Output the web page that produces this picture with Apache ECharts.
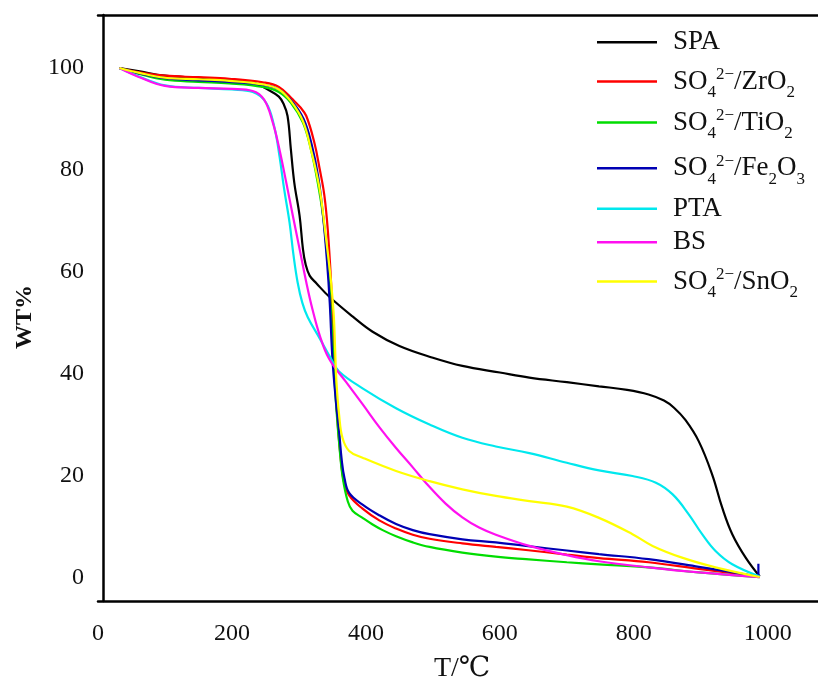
<!DOCTYPE html>
<html><head><meta charset="utf-8">
<script src="https://cdn.jsdelivr.net/npm/echarts@6/dist/echarts.min.js"></script>
<style>html,body{margin:0;padding:0;background:#fff}#c{width:818px;height:688px}</style>
</head><body><div id="c"></div>
<script>
const seriesNames = ['SPA', 'SO₄²⁻/ZrO₂', 'SO₄²⁻/TiO₂', 'SO₄²⁻/Fe₂O₃', 'PTA', 'BS', 'SO₄²⁻/SnO₂'];
const seriesColors = ['#000000', '#ff0000', '#00dd00', '#0000b4', '#00e8ee', '#ff10f0', '#ffff00'];
const xTickLabels = [0, 200, 400, 600, 800, 1000];
const yTickLabels = [0, 20, 40, 60, 80, 100];

const spaData = [[32,100],[60,99.4],[100,98.5],[150,98.1],[196,97.6],[230,97.2],[256,95.6],[270,94.4],[277,93],[283,90.6],[288,84],[293,77.6],[301,71],[306,64.5],[310,61.5],[316,59.3],[326,57.8],[345,55.2],[380,51.3],[410,48.3],[450,45.5],[500,43.2],[544,41.6],[600,40.3],[644,39.3],[700,38.4],[748,37.6],[790,36.9],[822,36],[845,34.8],[860,33.4],[877,31],[897,26.8],[917,20.3],[932,13.8],[947,8.6],[967,4],[988,0.3]];
const zro2Data = [[32,100],[60,99.2],[100,98.5],[150,98.2],[196,97.9],[246,97.2],[270,96.3],[291,93.8],[302,92.3],[311,90.6],[323,85.4],[331,80.2],[338,75],[343,68.4],[348,58],[350,51.5],[353,41.8],[357,32],[362,24],[367,19],[375,16.2],[395,13.6],[420,11.3],[445,9.7],[470,8.5],[495,7.7],[544,6.8],[594,6.1],[639,5.5],[700,4.6],[748,3.9],[822,3.1],[897,1.8],[988,0.3]];
const tio2Data = [[32,100],[60,98.9],[100,97.7],[150,97.3],[196,97],[246,96.3],[270,95.3],[288,93.2],[306,89.3],[318,84],[328,77.6],[336,71],[343,62],[347,54],[351,44],[356,33],[361,25],[365.5,19.6],[373,15],[380,13.2],[395,11.8],[410,10.5],[425,9.4],[445,8.2],[470,7],[495,6.1],[544,5],[594,4.2],[639,3.7],[700,3.1],[748,2.7],[822,2.1],[897,1.1],[988,0.2]];
const fe2o3Data = [[32,100],[60,99],[100,98],[150,97.6],[196,97.3],[246,96.7],[270,95.8],[290,93.4],[307,90],[319,85],[329,78.5],[336,71],[342,62],[346,54],[350,43],[355,35],[360,28.7],[364,23],[368,19.6],[375,16.7],[395,14.4],[420,12.3],[445,10.6],[470,9.4],[495,8.6],[544,7.6],[594,7],[639,6.3],[700,5.4],[748,4.7],[822,3.7],[897,2.2],[986,0.3],[986,2.8]];
const ptaData = [[32,100],[60,98.4],[100,96.6],[150,96.1],[200,95.8],[231,95.3],[251,93.2],[263,88.6],[271,82.7],[278,76.2],[286,69.7],[292,63.2],[298,58],[305,54],[313,51.2],[331,47],[348,43],[360,40.5],[395,37.2],[445,33.3],[495,30.1],[544,27.5],[594,25.8],[644,24.5],[700,22.6],[748,21.1],[798,20],[833,18.7],[858,16.4],[882,12.5],[902,8.6],[922,5.3],[947,2.7],[988,0.3]];
const bsData = [[32,100],[60,98.3],[100,96.5],[150,96.1],[200,95.9],[231,95.5],[248,93.8],[261,89.3],[271,84],[281,77.6],[291,71],[301,64.5],[311,58],[320,52.8],[331,47.6],[345,43],[370,38.5],[395,34.1],[420,29.6],[445,25.5],[470,21.7],[490,18.6],[519,14.6],[544,11.9],[569,9.9],[594,8.5],[644,6.3],[700,4.5],[748,3.3],[822,2.1],[897,1.1],[988,0.2]];
const sno2Data = [[32,100],[60,99.1],[100,98.1],[150,97.8],[196,97.5],[246,96.8],[270,95.8],[288,93.5],[306,89.6],[318,84],[331,76.2],[340,67.1],[348,58],[352,51.5],[354,45],[356,38.5],[360,32],[365,27.5],[375,24.9],[395,23.6],[445,21],[495,19],[544,17.4],[594,16.1],[644,15.1],[700,14],[748,11.8],[798,8.6],[828,6.3],[872,4],[922,2.1],[988,0.2]];

const allData = [spaData, zro2Data, tio2Data, fe2o3Data, ptaData, bsData, sno2Data];

const FONT = '"Liberation Serif", "DejaVu Serif", serif';
const subMap = {'₀':'0','₁':'1','₂':'2','₃':'3','₄':'4'};
const supMap = {'²':'2','⁻':'−'};
function richName(name) {
  let out = '', cur = '', type = null;
  const flush = () => { if (cur) out += '{' + type + '|' + cur + '}'; cur = ''; };
  for (const ch of name) {
    let t = 'n', c = ch;
    if (subMap[ch] !== undefined) { t = 'sub'; c = subMap[ch]; }
    else if (supMap[ch] !== undefined) { t = 'sup'; c = supMap[ch]; }
    if (t !== type) { flush(); type = t; }
    cur += c;
  }
  flush();
  return out;
}
const richStyles = {
  n: {fontFamily: FONT, fontSize: 27, lineHeight: 28, color: '#111'},
  sub: {fontFamily: FONT, fontSize: 17, lineHeight: 16, padding: [22, 0, 0, 0], color: '#111'},
  sup: {fontFamily: FONT, fontSize: 17, lineHeight: 16, padding: [0, 0, 14, 0], color: '#111'}
};
const legendRowCenters = [42.7, 81, 122, 167.7, 209.3, 242.7, 281];

const legends = seriesNames.map((nm, i) => {
  const h = /[₀-₉]/.test(nm) ? 38 : 28;
  return {
    data: [nm], orient: 'vertical', left: 597, top: legendRowCenters[i] - h / 2,
    padding: 0, itemWidth: 60, itemHeight: 2.5, itemGap: 0, icon: 'rect',
    formatter: richName,
    textStyle: {padding: [0, 0, 0, 11], rich: richStyles}
  };
});

const axisLineStyle = {color: '#000', width: 2.5};
const plainNum = v => String(v);
const chart = echarts.init(document.getElementById('c'), null, {renderer: 'canvas'});
chart.setOption({
  animation: false,
  backgroundColor: '#fff',
  legend: legends,
  grid: {left: 98, right: 0, top: 15, bottom: 84, containLabel: false},
  xAxis: [{
    type: 'value', min: 0, max: 1075, position: 'bottom',
    axisLine: {show: true, onZero: false, lineStyle: axisLineStyle},
    axisTick: {show: false}, splitLine: {show: false},
    axisLabel: {customValues: xTickLabels, formatter: plainNum, margin: 21, color: '#111', fontFamily: FONT, fontSize: 24},
    name: 'T/℃', nameLocation: 'middle', nameGap: 54,
    nameTextStyle: {fontFamily: FONT, fontSize: 28, color: '#111', padding: [0, 0, 0, 8]}
  }, {
    type: 'value', min: 0, max: 1075, position: 'top',
    axisLine: {show: true, onZero: false, lineStyle: axisLineStyle},
    axisTick: {show: false}, splitLine: {show: false}, axisLabel: {show: false}
  }],
  yAxis: {
    type: 'value', min: -4.5, max: 110.4, offset: -5,
    axisLine: {show: true, onZero: false, lineStyle: axisLineStyle},
    axisTick: {show: false}, splitLine: {show: false},
    axisLabel: {customValues: yTickLabels, formatter: plainNum, margin: 19, color: '#111', fontFamily: FONT, fontSize: 24},
    name: 'WT%', nameLocation: 'middle', nameGap: 60,
    nameTextStyle: {fontFamily: FONT, fontSize: 24, fontWeight: 'bold', color: '#111', padding: [0, 18, 0, 0]}
  },
  series: seriesNames.map((nm, i) => ({
    name: nm, type: 'line', data: allData[i],
    symbol: 'none', showSymbol: false,
    smooth: 0.4,
    color: seriesColors[i],
    lineStyle: {color: seriesColors[i], width: 2.2}
  }))
});
</script>
</body></html>
